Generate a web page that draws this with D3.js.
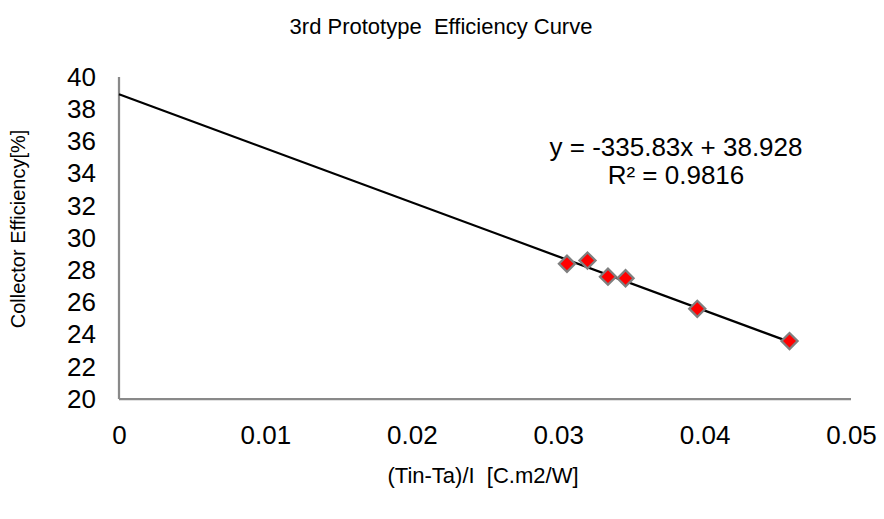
<!DOCTYPE html>
<html lang="en">
<head>
<meta charset="utf-8">
<title>3rd Prototype Efficiency Curve</title>
<script src="https://cdn.jsdelivr.net/npm/d3@7"></script>
<style>
  body { margin: 0; background: #fff; }
  text { font-family: "Liberation Sans", Arial, sans-serif; fill: #000; white-space: pre; }
  .axis path { stroke: #898989; stroke-width: 2.25; }
  .axis line { display: none; }
  .axis text { font-size: 26px; }
</style>
</head>
<body>
<script>
// data
const xVals = [0.0306, 0.0320, 0.0334, 0.0346, 0.0395, 0.0458];
const yVals = [28.4, 28.6, 27.6, 27.5, 25.6, 23.6];
const xTicks = [0, 0.01, 0.02, 0.03, 0.04, 0.05];
const yTicks = [20, 22, 24, 26, 28, 30, 32, 34, 36, 38, 40];
// trendline: slope, intercept
const fit = [-335.83, 38.928];
const eqLabels = ["y = -335.83x + 38.928", "R\u00b2 = 0.9816"];

const width = 884, height = 519;
const plotLeft = 119, plotRight = 851, plotTop = 77, plotBottom = 399;

const svg = d3.select("body").append("svg")
    .attr("width", width)
    .attr("height", height);

const x = d3.scaleLinear().domain([0, 0.05]).range([plotLeft, plotRight]);
const y = d3.scaleLinear().domain([20, 40]).range([plotBottom, plotTop]);

// title
svg.append("text")
    .attr("x", 441).attr("y", 34)
    .attr("text-anchor", "middle")
    .style("font-size", "22px")
    .text("3rd Prototype  Efficiency Curve");

// axes
svg.append("g")
    .attr("class", "axis")
    .attr("transform", "translate(0," + plotBottom + ")")
    .call(d3.axisBottom(x).tickValues(xTicks).tickSize(0).tickPadding(27)
        .tickFormat(d => d === 0 ? "0" : d3.format(".2f")(d)))
    .call(g => g.select(".domain").attr("d", "M" + plotLeft + ",0H" + plotRight));

svg.append("g")
    .attr("class", "axis")
    .attr("transform", "translate(" + plotLeft + ",0)")
    .call(d3.axisLeft(y).tickValues(yTicks).tickSize(0).tickPadding(23))
    .call(g => g.select(".domain").attr("d", "M0," + plotTop + "V" + plotBottom));

// axis titles
svg.append("text")
    .attr("x", 483).attr("y", 483)
    .attr("text-anchor", "middle")
    .style("font-size", "22px")
    .text("(Tin-Ta)/I  [C.m2/W]");

svg.append("text")
    .attr("transform", "translate(25,229) rotate(-90)")
    .attr("text-anchor", "middle")
    .style("font-size", "20px")
    .text("Collector Efficiency[%]");

// trendline from the fitted coefficients
const xEnd = d3.max(xVals);
svg.append("line")
    .attr("x1", x(0)).attr("y1", y(fit[1]))
    .attr("x2", x(xEnd)).attr("y2", y(fit[0] * xEnd + fit[1]))
    .attr("stroke", "#000")
    .attr("stroke-width", 2.25);

// points
svg.selectAll("path.pt")
    .data(xVals)
    .join("path")
    .attr("class", "pt")
    .attr("d", d3.symbol(d3.symbolSquare, 130))
    .attr("transform", (d, i) => "translate(" + x(d) + "," + y(yVals[i]) + ") rotate(45)")
    .attr("fill", "#ff0000")
    .attr("stroke", "#7f7f7f")
    .attr("stroke-width", 2.25);

// equation label
svg.selectAll("text.eq")
    .data(eqLabels)
    .join("text")
    .attr("class", "eq")
    .attr("x", 676)
    .attr("y", (d, i) => 156 + i * 28)
    .attr("text-anchor", "middle")
    .style("font-size", "26px")
    .text(d => d);
</script>
</body>
</html>
